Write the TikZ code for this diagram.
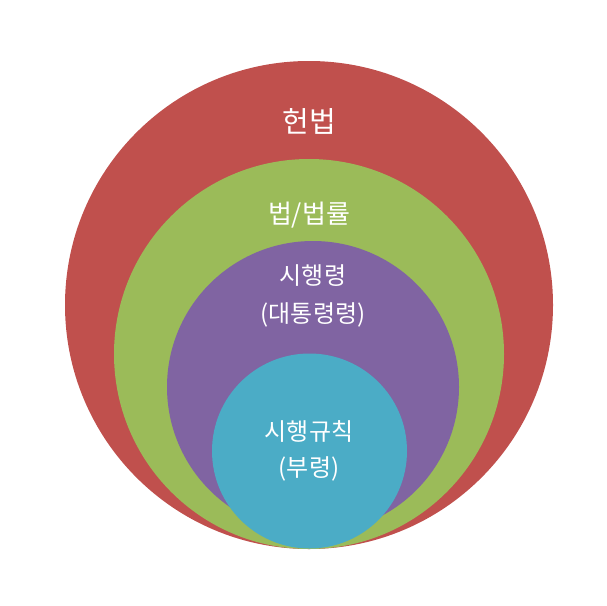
\documentclass[tikz,border=0pt]{standalone}
\usepackage{fontspec}
\setmainfont{Noto Sans CJK KR}
\definecolor{cred}{HTML}{C0504D}
\definecolor{cgreen}{HTML}{9BBB59}
\definecolor{cpurple}{HTML}{8064A2}
\definecolor{ccyan}{HTML}{4BACC6}
\begin{document}
\begin{tikzpicture}[x=1pt,y=-1pt,
  disc/.style={circle,inner sep=0pt,outer sep=0pt},
  lab/.style={text=white,align=center,inner sep=0pt}]
\useasboundingbox (0,0) rectangle (607,605);
\node[disc,fill=cred,minimum size=488pt] (law) at (309,305) {};
\node[disc,fill=cgreen,minimum size=390pt] (act) at (309,354) {};
\node[disc,fill=cpurple,minimum size=292pt] (decree) at (313,387) {};
\node[disc,fill=ccyan,minimum size=195pt] (rule) at (309.5,451) {};
\node[lab,font=\fontsize{29}{33}\selectfont] (t1) at (309,121) {헌법};
\node[lab,font=\fontsize{26}{30}\selectfont] (t2) at (309,215) {법/법률};
\node[lab,font=\fontsize{24}{38}\selectfont] (t3) at (313,296) {시행령\\(대통령령)};
\node[lab,font=\fontsize{24}{36}\selectfont] (t4) at (309,451) {시행규칙\\(부령)};
\end{tikzpicture}
\end{document}
